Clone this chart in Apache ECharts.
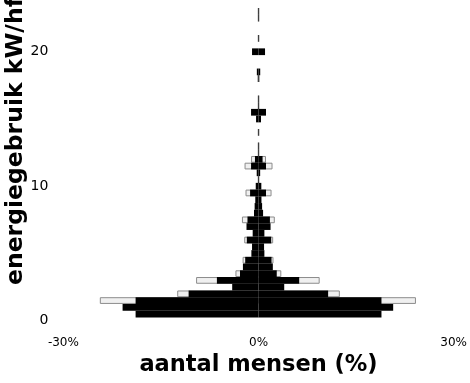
<!DOCTYPE html>
<html><head><meta charset="utf-8">
<script src="https://cdn.jsdelivr.net/npm/echarts@6/dist/echarts.min.js"></script>
<style>html,body{margin:0;padding:0;background:#fff}#c{width:470px;height:383px}</style>
</head><body><div id="c"></div>
<script>
// energy use bins (kW/hfd), bottom to top
const energyBins = ['0','0.5','1','1.5','2','2.5','3','3.5','4','4.5','5','5.5','6','6.5','7','7.5','8','8.5','9','9.5','10','10.5','11','11.5','12','12.5','13','13.5','14','14.5','15','15.5','16','16.5','17','17.5','18','18.5','19','19.5','20','20.5','21','21.5','22','22.5','23','23.5'];
// percentages of people (left side / right side)
const blackLeft  = [null,18.9,20.9,18.9,10.75,4.05,6.4,2.85,2.4,2.05,1.1,1.0,1.8,0.9,1.85,1.7,0.7,0.6,0.5,1.3,0.43,0.1,0.28,1.15,0.55,0.1,0.1,null,0.1,null,0.38,1.15,0.1,0.1,null,null,0.12,0.26,null,null,1.0,null,0.1,null,null,0.1,0.1,null];
const blackRight = [null,18.9,20.7,18.9,10.7,3.95,6.25,2.8,2.2,2.0,0.9,0.85,1.95,0.9,1.85,1.75,0.7,0.55,0.45,1.15,0.43,0.1,0.25,1.15,0.62,0.1,0.1,null,0.1,null,0.38,1.15,0.1,0.1,null,null,0.12,0.26,null,null,1.0,null,0.1,null,null,0.1,0.1,null];
const whiteLeft  = [null,null,null,24.4,12.5,null,9.6,3.55,null,2.45,null,null,2.2,null,null,2.55,null,null,null,2.0,null,null,null,2.15,1.15,null,null,null,null,null,null,null,null,null,null,null,null,null,null,null,null,null,null,null,null,null,null,null];
const whiteRight = [null,null,null,24.2,12.5,null,9.4,3.5,null,2.3,null,null,2.25,null,null,2.5,null,null,null,2.0,null,null,null,2.15,1.15,null,null,null,null,null,null,null,null,null,null,null,null,null,null,null,null,null,null,null,null,null,null,null];
const xTicks = [-30, 0, 30];
const yLabelsShown = ['0','10','20'];

const neg = a => a.map(v => v == null ? null : -v);
const whiteStyle = {color:'#f0f0f0', borderColor:'#8c8c8c', borderWidth:1};
const blackStyle = {color:'#000'};
const mk = (data, style) => ({type:'bar', data, itemStyle:style, barGap:'-100%', barCategoryGap:0, silent:true});

const chart = echarts.init(document.getElementById('c'), null, {renderer:'canvas'});
chart.setOption({
  animation:false,
  backgroundColor:'#fff',
  grid:{left:63.4, right:15, top:1.3, bottom:58.9, containLabel:false},
  xAxis:{type:'value', min:xTicks[0], max:xTicks[2], interval:30,
    axisLine:{show:false}, axisTick:{show:false}, splitLine:{show:false},
    axisLabel:{formatter:v=>v+'%', fontFamily:'DejaVu Sans', fontSize:12, color:'#000', margin:13},
    name:'aantal mensen (%)', nameLocation:'middle', nameGap:30,
    nameTextStyle:{fontFamily:'DejaVu Sans', fontWeight:'bold', fontSize:22.5, color:'#000'}},
  yAxis:{type:'category', data:energyBins, boundaryGap:true,
    axisLine:{show:false}, axisTick:{show:false}, splitLine:{show:false},
    axisLabel:{interval:(i,v)=>yLabelsShown.includes(v), fontFamily:'DejaVu Sans', fontSize:14, color:'#000', margin:15}},
  graphic:[{type:'text', x:16, y:285, rotation:Math.PI/2,
    style:{text:'energiegebruik kW/hfd', fontFamily:'DejaVu Sans', fontWeight:'bold', fontSize:23.5, fill:'#000', align:'left', verticalAlign:'middle'}}],
  series:[
    mk(neg(whiteLeft), whiteStyle),
    mk(whiteRight, whiteStyle),
    mk(neg(blackLeft), blackStyle),
    mk(blackRight, blackStyle)
  ]
});
</script></body></html>
